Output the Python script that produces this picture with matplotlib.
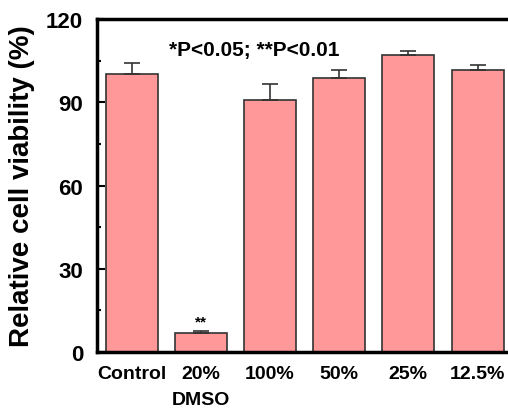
import numpy as np
import matplotlib
matplotlib.use('Agg')
import matplotlib.pyplot as plt
from matplotlib.ticker import MultipleLocator

groups = ['Control', '20%\nDMSO', '100%', '50%', '25%', '12.5%']
viability = [100.2, 6.8, 90.9, 98.9, 107.0, 101.7]
err_upper = [3.9, 0.6, 5.8, 2.8, 1.6, 1.8]
note = '*P<0.05; **P<0.01'
star_labels = ['', '**', '', '', '', '']

plt.rcParams['font.family'] = ['Liberation Sans', 'DejaVu Sans']
plt.rcParams['font.weight'] = 'bold'

fig = plt.figure(figsize=(5.08, 4.10), dpi=100)
ax = fig.add_axes([0.191, 0.139, 0.809, 0.812])

x = np.arange(len(groups))
ax.bar(x, viability, width=0.75, color='#ff9999', edgecolor='#333333', linewidth=1.2,
       yerr=[np.zeros(len(err_upper)), err_upper], capsize=6,
       error_kw={'ecolor': '#333333', 'elinewidth': 1.2, 'capthick': 1.2})

# significance stars above bars
for xi, v, e, s in zip(x, viability, err_upper, star_labels):
    if s:
        ax.text(xi, v + e + 1.0, s, ha='center', va='bottom', fontsize=11, fontweight='bold')

ax.text(0.176, 0.91, note, transform=ax.transAxes, ha='left', va='center',
        fontsize=15, fontweight='bold')

ax.set_xlim(-0.5, 5.44)
ax.set_ylim(0, 120)
ax.yaxis.set_major_locator(MultipleLocator(30))
ax.yaxis.set_minor_locator(MultipleLocator(15))
ax.set_xticks(x)
ax.set_xticklabels(groups, fontsize=14, fontweight='bold', linespacing=1.7)
ax.tick_params(axis='x', length=0, pad=9)
ax.tick_params(axis='y', which='major', direction='in', length=6, width=1.5, labelsize=16, pad=10)
ax.tick_params(axis='y', which='minor', direction='in', length=3, width=1.5)
for lbl in ax.get_yticklabels():
    lbl.set_fontweight('bold')

ax.set_ylabel('Relative cell viability (%)', fontsize=20, fontweight='bold', labelpad=8)

for side in ['left', 'bottom', 'top']:
    ax.spines[side].set_linewidth(2.5)
ax.spines['right'].set_visible(False)

fig.savefig('out.png', dpi=100)
